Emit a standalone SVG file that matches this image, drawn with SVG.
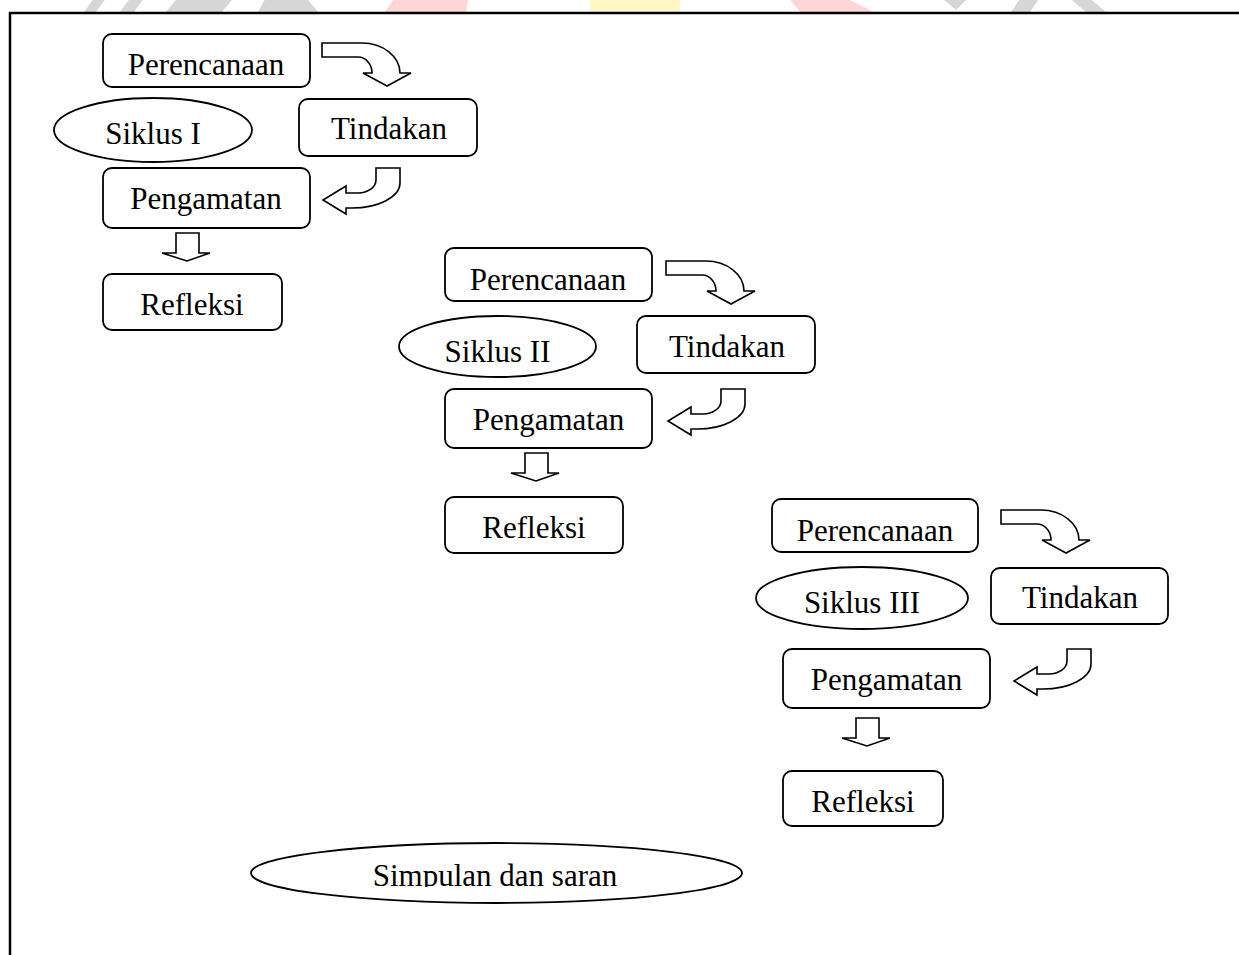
<svg xmlns="http://www.w3.org/2000/svg" width="1239" height="955" viewBox="0 0 1239 955">
<style>
.box{fill:#fff;stroke:#000;stroke-width:1.8}
.ell{fill:#fff;stroke:#000;stroke-width:1.8}
.arr{fill:#fff;stroke:#000;stroke-width:1.6;stroke-linejoin:miter}
.t{font-family:"Liberation Serif","Times New Roman",serif;font-size:31px;fill:#000;text-anchor:middle}
.frame{stroke:#000;stroke-width:2.5;fill:none}
.wm{stroke:none}
</style>
<defs>
<path id="arrA" d="M322,43 H362 A38,30 0 0 1 400,73 H411 L387,86 L363,73 H372 A14,16 0 0 0 358,57 H322 Z"/>
<path id="arrB" d="M376,168 H400 V183 A48,25 0 0 1 352,208 H346 V214 L323,200 L346,186 V193 H358 A18,13 0 0 0 376,180 Z"/>
<path id="arrC" d="M176,233 H199 V253 H210 L187,261 L162,253 H176 Z"/>
<clipPath id="wmclip"><rect x="0" y="0" width="1239" height="12"/></clipPath>
<clipPath id="simclip"><rect x="0" y="0" width="1239" height="887"/></clipPath>
</defs>
<rect x="0" y="0" width="1239" height="955" fill="#fff"/>
<g id="watermark" clip-path="url(#wmclip)">
<polygon class="wm" fill="#d6d6d6" points="84,12 96,12 112,-10 100,-10"/>
<polygon class="wm" fill="#d6d6d6" points="120,12 134,12 150,-10 136,-10"/>
<polygon class="wm" fill="#d6d6d6" points="166,12 222,12 240,-10 184,-10"/>
<polygon class="wm" fill="#d6d6d6" points="258,12 318,12 300,-10 270,-10"/>
<polygon class="wm" fill="#ffd6d6" points="385,12 466,12 470,-10 400,-10"/>
<rect class="wm" fill="#fff8c4" x="590" y="0" width="90" height="12"/>
<polygon class="wm" fill="#ffd6d6" points="782,-10 830,-10 874,12 800,12"/>
<polygon class="wm" fill="#d6d6d6" points="944,0 966,0 956,10"/>
<polygon class="wm" fill="#d6d6d6" points="1011,12 1030,12 1045,-10 1026,-10"/>
<polygon class="wm" fill="#d6d6d6" points="1060,-10 1080,-10 1106,12 1086,12"/>
</g>
<g id="frame">
<line class="frame" x1="9" y1="13" x2="1239" y2="13"/>
<line class="frame" x1="10" y1="12" x2="10" y2="955"/>
</g>
<g id="connectors">
<use href="#arrA" class="arr"/>
<use href="#arrB" class="arr"/>
<use href="#arrC" class="arr"/>
<use href="#arrA" class="arr" transform="translate(344,218)"/>
<use href="#arrB" class="arr" transform="translate(345,221)"/>
<use href="#arrC" class="arr" transform="translate(349,220)"/>
<use href="#arrA" class="arr" transform="translate(679,467)"/>
<use href="#arrB" class="arr" transform="translate(691,481)"/>
<use href="#arrC" class="arr" transform="translate(680,485)"/>
</g>
<g id="c1-perencanaan"><rect class="box" x="103" y="34" width="207" height="53" rx="9"/><text class="t" x="206" y="75">Perencanaan</text></g>
<g id="c1-siklus"><ellipse class="ell" cx="153" cy="130" rx="99" ry="32"/><text class="t" x="153" y="144">Siklus I</text></g>
<g id="c1-tindakan"><rect class="box" x="299" y="99" width="178" height="57" rx="9"/><text class="t" x="389" y="139">Tindakan</text></g>
<g id="c1-pengamatan"><rect class="box" x="103" y="168" width="207" height="60" rx="9"/><text class="t" x="206" y="209">Pengamatan</text></g>
<g id="c1-refleksi"><rect class="box" x="103" y="274" width="179" height="56" rx="9"/><text class="t" x="192" y="315">Refleksi</text></g>

<g id="c2-perencanaan"><rect class="box" x="445" y="248" width="207" height="53" rx="9"/><text class="t" x="548" y="290">Perencanaan</text></g>
<g id="c2-siklus"><ellipse class="ell" cx="497.5" cy="346.5" rx="98.5" ry="30.5"/><text class="t" x="497.5" y="362">Siklus II</text></g>
<g id="c2-tindakan"><rect class="box" x="637" y="316" width="178" height="57" rx="9"/><text class="t" x="727" y="357">Tindakan</text></g>
<g id="c2-pengamatan"><rect class="box" x="445" y="389" width="207" height="59" rx="9"/><text class="t" x="548.5" y="430">Pengamatan</text></g>
<g id="c2-refleksi"><rect class="box" x="445" y="497" width="178" height="56" rx="9"/><text class="t" x="534" y="538">Refleksi</text></g>

<g id="c3-perencanaan"><rect class="box" x="772" y="499" width="206" height="53" rx="9"/><text class="t" x="875" y="541">Perencanaan</text></g>
<g id="c3-siklus"><ellipse class="ell" cx="862" cy="598" rx="106" ry="31"/><text class="t" x="862" y="613">Siklus III</text></g>
<g id="c3-tindakan"><rect class="box" x="991" y="568" width="177" height="56" rx="9"/><text class="t" x="1080" y="608">Tindakan</text></g>
<g id="c3-pengamatan"><rect class="box" x="783" y="649" width="207" height="59" rx="9"/><text class="t" x="886.5" y="690">Pengamatan</text></g>
<g id="c3-refleksi"><rect class="box" x="783" y="771" width="160" height="55" rx="9"/><text class="t" x="863" y="812">Refleksi</text></g>

<g id="simpulan"><ellipse class="ell" cx="496.5" cy="873" rx="245.5" ry="30"/><text class="t" x="495" y="886" clip-path="url(#simclip)">Simpulan dan saran</text></g>
</svg>
